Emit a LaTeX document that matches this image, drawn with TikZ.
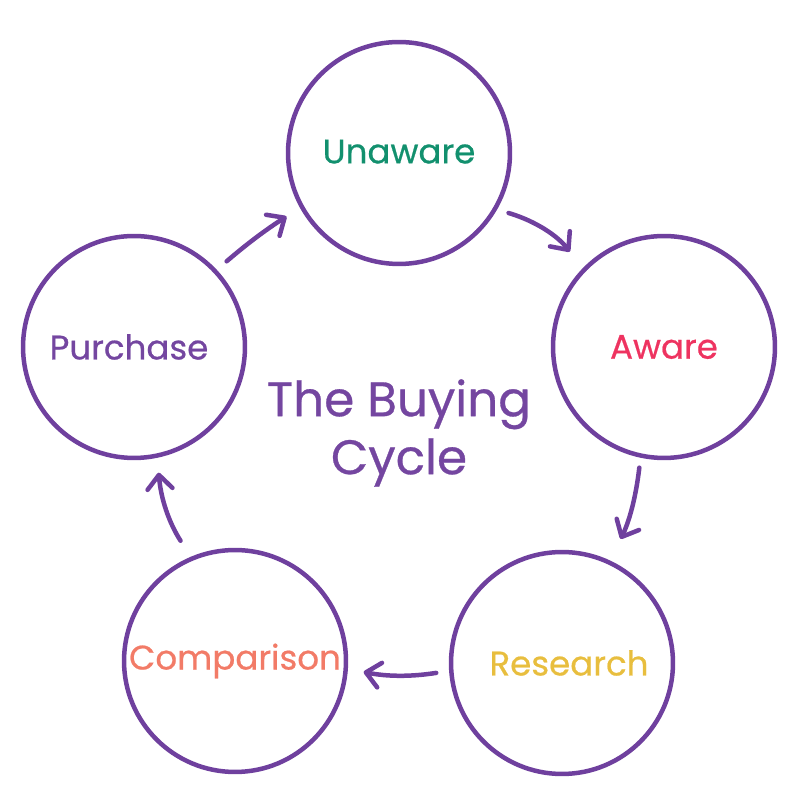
\documentclass[tikz,border=0pt]{standalone}
\usepackage{fontspec}
\setmainfont{Poppins}[FakeBold=0.6]
\usetikzlibrary{arrows.meta}

\definecolor{cyclepurple}{HTML}{6F409E}
\definecolor{txtpurple}{HTML}{7446A0}
\definecolor{txtgreen}{HTML}{12906E}
\definecolor{txtred}{HTML}{EE3360}
\definecolor{txtyellow}{HTML}{E8BE3E}
\definecolor{txtsalmon}{HTML}{F27B67}

\tikzset{
  stage/.style={circle, draw=cyclepurple, line width=0.09cm, inner sep=0pt,
    minimum size=4.44cm, font=\fontsize{19.4pt}{22pt}\selectfont},
  cyclearrow/.style={draw=cyclepurple, line width=0.09cm, line cap=round,
    -{Straight Barb[length=0.28cm,width=0.50cm,round]}}
}

\begin{document}
\begin{tikzpicture}[x=0.02cm,y=0.02cm]

\useasboundingbox (0,0) rectangle (800,800);

% Stages
\node[stage, text=txtgreen] (unaware) at (399,647) {\raisebox{0.06cm}{Unaware}};
\node[stage, text=txtred] (aware) at (664,453) {Aware};
\node[stage, text=txtyellow] (research) at (562,137) {\hspace*{0.28cm}Research};
\node[stage, text=txtsalmon] (comparison) at (235,139) {Comparison};
\node[stage, text=txtpurple] (purchase) at (134,453) {Purchase\hspace*{0.2cm}};

% Arrows
\draw[cyclearrow, shorten <=0.26cm, shorten >=0.32cm]
  (purchase.43) to[bend left=4] (unaware.209);
\draw[cyclearrow, shorten <=0.24cm, shorten >=0.42cm]
  (unaware.-30) to[bend left=18] (aware.136);
\draw[cyclearrow, shorten <=0.20cm, shorten >=0.48cm]
  (aware.258) to[bend left=10] (research.65);
\draw[cyclearrow, shorten <=0.26cm, shorten >=0.32cm]
  (research.184) to[bend left=10] (comparison.-4);
\draw[cyclearrow, shorten <=0.38cm, shorten >=0.30cm]
  (comparison.113) to[bend left=14] (purchase.-78);

% Title
\node[text=txtpurple, align=center, font=\fontsize{27.6pt}{33pt}\selectfont]
  (title) at (399,367) {The Buying\\Cycle};

\end{tikzpicture}
\end{document}
